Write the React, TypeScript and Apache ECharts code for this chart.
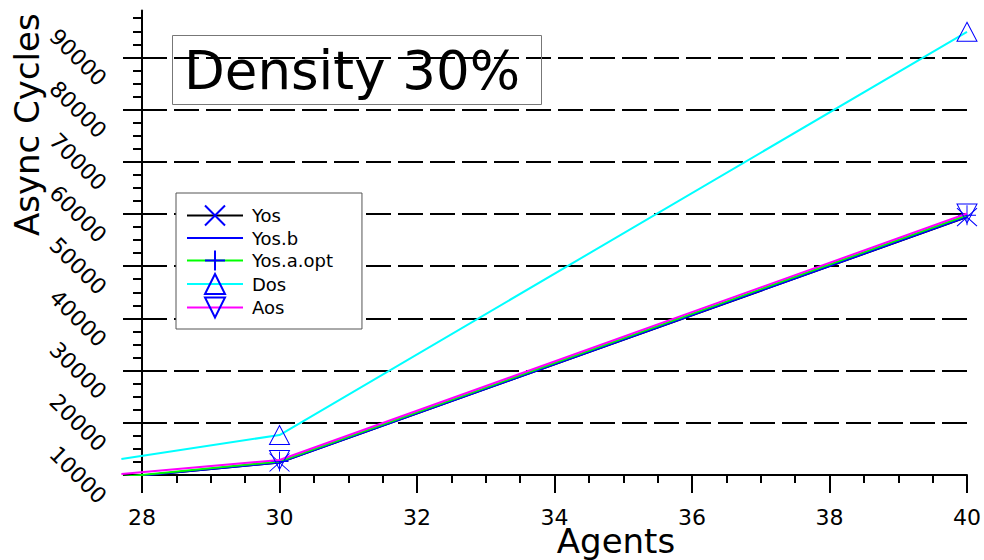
import React, { useEffect, useRef } from "react";
import * as echarts from "echarts";

// Agents sampled; the first point lies just left of the axis start
const agents = [27.7, 30, 40];
const yos = [9520, 12400, 59400];
const yosB = [9520, 12390, 59440];
const yosAOpt = [9620, 12580, 59760];
const dos = [13070, 17660, 94900];
const aos = [10190, 12870, 60090];

const xTickLabels = [28, 30, 32, 34, 36, 38, 40];
const yTickLabels = [10000, 20000, 30000, 40000, 50000, 60000, 70000, 80000, 90000];
const yMinorTicks = [
  12500, 15000, 17500, 22500, 25000, 27500, 32500, 35000, 37500, 42500, 45000, 47500,
  52500, 55000, 57500, 62500, 65000, 67500, 72500, 75000, 77500, 82500, 85000, 87500,
  92500, 95000, 97500,
];
const Y_MIN = 10000;
const Y_MAX = 99000;

const FONT = "DejaVu Sans";
const MARK = "#0000ff";

const SYM_X = "path://M0,0L10,10M10,0L0,10";
const SYM_PLUS = "path://M5,0L5,10M0,5L10,5";
const SYM_UP = "path://M5,0L10,10L0,10Z";
const SYM_DOWN = "path://M0,0L10,0L5,10Z";

// Layout of the framed plot area
const PLOT_LEFT = 142;
const PLOT_RIGHT = 17;
const PLOT_TOP = 10.4;
const PLOT_BOTTOM = 85;
// The data panel reaches a little further left than the axes
const DATA_LEFT = 120;
const X_MIN = xTickLabels[0];
const X_MAX = xTickLabels[xTickLabels.length - 1];
const PX_PER_AGENT = (984 - PLOT_RIGHT - PLOT_LEFT) / (X_MAX - X_MIN);
const DATA_X_MIN = X_MIN - (PLOT_LEFT - DATA_LEFT) / PX_PER_AGENT;

// first sample is drawn as part of the line only, without a marker
const points = (vals: number[]) =>
  agents.map((a, i) => (i === 0 ? { value: [a, vals[i]], symbol: "none" } : { value: [a, vals[i]] }));

const lineSeries = (
  name: string,
  vals: number[],
  color: string,
  symbol: string,
  size: number[] | number,
  z: number
) => ({
  name,
  type: "line",
  xAxisIndex: 1,
  yAxisIndex: 2,
  data: points(vals),
  z,
  symbol,
  symbolSize: size,
  symbolKeepAspect: false,
  lineStyle: { color, width: 2 },
  itemStyle: { color: "transparent", borderColor: MARK, borderWidth: symbol === "none" ? 0 : 1 },
  emphasis: { disabled: true },
});

export default function App() {
  const ref = useRef<HTMLDivElement>(null);

  useEffect(() => {
    if (!ref.current) return;
    const chart = echarts.init(ref.current, undefined, { renderer: "svg" });
    const hiddenAxis = {
      show: false,
      axisLine: { show: false },
      axisTick: { show: false },
      axisLabel: { show: false },
      splitLine: { show: false },
    };
    chart.setOption({
      animation: false,
      backgroundColor: "#fff",
      textStyle: { fontFamily: FONT },
      title: {
        text: "Density 30%",
        left: 172,
        top: 35,
        padding: [8, 22, 8, 12],
        borderColor: "#777",
        borderWidth: 1,
        textStyle: { fontSize: 53, lineHeight: 54, fontWeight: "normal", fontFamily: FONT, color: "#000" },
      },
      legend: {
        orient: "vertical",
        left: 176,
        top: 193,
        backgroundColor: "#fff",
        borderColor: "#555",
        borderWidth: 1,
        padding: [11.5, 29, 10.5, 10],
        itemWidth: 56,
        itemHeight: 25,
        itemGap: 1.5,
        selectedMode: false,
        textStyle: { fontSize: 18, fontFamily: FONT, color: "#000", padding: [0, 0, 0, 4] },
        data: ["Yos", "Yos.b", "Yos.a.opt", "Dos", "Aos"],
      },
      grid: [
        { left: PLOT_LEFT, right: PLOT_RIGHT, top: PLOT_TOP, bottom: PLOT_BOTTOM, containLabel: false, outerBoundsMode: "none" },
        { left: DATA_LEFT, right: PLOT_RIGHT, top: PLOT_TOP, bottom: PLOT_BOTTOM, containLabel: false, outerBoundsMode: "none" },
      ],
      xAxis: [
        {
          type: "value",
          gridIndex: 0,
          min: X_MIN,
          max: X_MAX,
          interval: 2,
          axisLine: { show: true, lineStyle: { color: "#000", width: 2 } },
          axisTick: { show: true, inside: false, length: 18, lineStyle: { color: "#000", width: 2 } },
          minorTick: { show: true, splitNumber: 4, length: 8, lineStyle: { color: "#000", width: 2 } },
          axisLabel: { fontSize: 22, margin: 31, color: "#000", fontFamily: FONT },
          splitLine: { show: false },
          name: "Agents",
          nameLocation: "middle",
          nameGap: 49,
          nameMoveOverlap: false,
          nameTextStyle: { fontSize: 34, color: "#000", fontFamily: FONT, padding: [0, 0, 0, 123] },
        },
        { type: "value", gridIndex: 1, min: DATA_X_MIN, max: X_MAX, ...hiddenAxis },
      ],
      yAxis: [
        {
          type: "value",
          gridIndex: 0,
          min: Y_MIN,
          max: Y_MAX,
          axisLine: { show: true, lineStyle: { color: "#000", width: 2 } },
          axisTick: {
            show: true,
            inside: false,
            length: 19,
            customValues: yTickLabels,
            lineStyle: { color: "#000", width: 2 },
          },
          axisLabel: {
            customValues: yTickLabels,
            formatter: (v: number) => String(v),
            rotate: -45,
            margin: 64,
            align: "center",
            verticalAlign: "middle",
            fontSize: 22,
            color: "#000",
            fontFamily: FONT,
          },
          splitLine: { show: true, lineStyle: { color: "#000", width: 2, type: [25, 7] } },
          name: "Async Cycles",
          nameLocation: "middle",
          nameRotate: 90,
          nameGap: 98,
          nameMoveOverlap: false,
          nameTextStyle: { fontSize: 34, color: "#000", fontFamily: FONT, padding: [0, 0, 0, 236] },
        },
        {
          type: "value",
          gridIndex: 0,
          min: Y_MIN,
          max: Y_MAX,
          position: "left",
          axisLine: { show: false },
          axisTick: {
            show: true,
            inside: false,
            length: 9,
            customValues: yMinorTicks,
            lineStyle: { color: "#000", width: 2 },
          },
          axisLabel: { show: false },
          splitLine: { show: false },
        },
        { type: "value", gridIndex: 1, min: Y_MIN, max: Y_MAX, ...hiddenAxis },
      ],
      series: [
        lineSeries("Yos", yos, "#000000", SYM_X, [20, 18], 3),
        lineSeries("Yos.b", yosB, "#0000ff", "none", 0, 4),
        lineSeries("Yos.a.opt", yosAOpt, "#00ff00", SYM_PLUS, [18, 20], 5),
        lineSeries("Dos", dos, "#00ffff", SYM_UP, [20, 19], 6),
        lineSeries("Aos", aos, "#ff00ff", SYM_DOWN, [20, 19], 7),
      ],
    });
    return () => chart.dispose();
  }, []);

  return (
    <div
      ref={ref}
      style={{ position: "fixed", left: 0, top: 0, width: 984, height: 560, overflow: "hidden" }}
    />
  );
}
